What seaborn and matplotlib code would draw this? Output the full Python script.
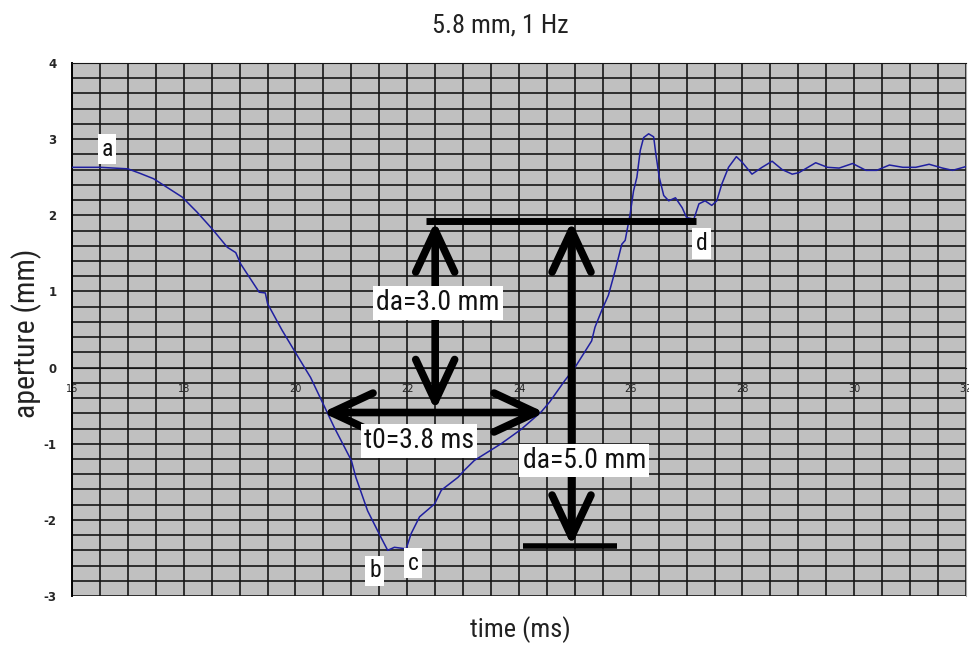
import numpy as np
import pandas as pd
import matplotlib
matplotlib.use("Agg")
import matplotlib.pyplot as plt
from matplotlib import font_manager
import seaborn as sns

# aperture trace (mm) against time (ms)
time_ms = [16.00, 16.50, 17.00, 17.22, 17.46, 17.97, 18.24, 18.51, 18.78, 18.93,
           19.02, 19.35, 19.46, 19.50, 19.76, 20.03, 20.27, 20.51, 20.69, 21.00,
           21.08, 21.29, 21.53, 21.65, 21.77, 21.98, 22.07, 22.22, 22.49, 22.61,
           22.91, 23.02, 23.20, 23.68, 24.04, 24.40, 24.55, 24.82, 25.00, 25.30,
           25.36, 25.48, 25.60, 25.72, 25.84, 25.90, 25.99, 26.05, 26.11, 26.17,
           26.23, 26.32, 26.41, 26.45, 26.51, 26.59, 26.68, 26.80, 26.92, 27.00,
           27.13, 27.22, 27.33, 27.45, 27.54, 27.63, 27.75, 27.89, 27.99, 28.17,
           28.35, 28.53, 28.71, 28.89, 29.01, 29.31, 29.52, 29.73, 29.97, 30.21,
           30.40, 30.63, 30.87, 31.10, 31.34, 31.58, 31.76, 32.00]
aperture_mm = [2.63, 2.63, 2.61, 2.55, 2.48, 2.24, 2.04, 1.82, 1.58, 1.51,
               1.36, 0.99, 0.98, 0.84, 0.49, 0.16, -0.13, -0.50, -0.78, -1.22,
               -1.44, -1.88, -2.23, -2.40, -2.36, -2.38, -2.18, -1.96, -1.79, -1.61,
               -1.44, -1.35, -1.22, -1.00, -0.81, -0.58, -0.45, -0.17, 0.00, 0.35,
               0.53, 0.75, 0.95, 1.27, 1.62, 1.67, 2.02, 2.32, 2.50, 2.85,
               3.02, 3.07, 3.03, 2.80, 2.50, 2.26, 2.19, 2.23, 2.10, 1.97,
               1.95, 2.15, 2.19, 2.13, 2.19, 2.41, 2.63, 2.77, 2.70, 2.54,
               2.63, 2.71, 2.60, 2.54, 2.56, 2.69, 2.63, 2.62, 2.68, 2.59,
               2.59, 2.66, 2.63, 2.63, 2.67, 2.62, 2.59, 2.64]

x_tick_values = [16, 18, 20, 22, 24, 26, 28, 30, 32]
y_tick_values = [-3, -2, -1, 0, 1, 2, 3, 4]

# measurement annotations (data coordinates)
t0_span = (20.48, 24.46, -0.59)          # x_start, x_end, y
da3_span = (22.50, 1.92, -0.56)          # x, y_top, y_bottom
da5_span = (24.94, 1.92, -2.34)          # x, y_top, y_bottom
top_level = (22.34, 27.16, 1.92)         # x_start, x_end, y
bottom_level = (24.08, 25.75, -2.34)     # x_start, x_end, y

labels = [
    ("a", 16.63, 2.87),
    ("b", 21.42, -2.67),
    ("c", 22.10, -2.57),
    ("d", 27.27, 1.63),
    ("da=3.0 mm", 22.55, 0.85),
    ("t0=3.8 ms", 22.21, -0.96),
    ("da=5.0 mm", 25.17, -1.22),
]

sns.set_style("white", {"axes.facecolor": "#c0c0c0"})
plt.rcParams["font.family"] = ["DejaVu Sans"]
plt.rcParams["axes.unicode_minus"] = False

# narrow face for the labels, if one is installed
narrow_family = "DejaVu Sans"
narrow_stretch = "normal"
_faces = [(f.name, f.stretch) for f in font_manager.fontManager.ttflist]
for name, stretch in _faces:
    if name == "DejaVu Sans" and stretch == "condensed":
        narrow_stretch = "condensed"
        break
for name, stretch in _faces:
    if name in ("Liberation Sans Narrow", "DejaVu Sans Condensed", "Roboto Condensed"):
        narrow_family, narrow_stretch = name, "normal"
        break
label_font = dict(family=narrow_family, stretch=narrow_stretch)

fig = plt.figure(figsize=(9.69, 6.48), dpi=100)
ax = fig.add_axes([0.0743, 0.0802, 0.9226, 0.8226])

df = pd.DataFrame({"time": time_ms, "aperture": aperture_mm})
sns.lineplot(data=df, x="time", y="aperture", ax=ax, color="#1f1fa0",
             linewidth=1.1, zorder=3, sort=False)

ax.set_xlim(16, 32)
ax.set_ylim(-3, 4)
ax.set_xticks(x_tick_values)
ax.set_yticks(y_tick_values)
ax.set_xticks(np.arange(16, 32.01, 0.5), minor=True)
ax.set_yticks(np.arange(-3, 4.01, 0.2), minor=True)
ax.grid(which="both", color="#161616", linewidth=1.2)
ax.set_axisbelow(True)

# x axis crosses at zero, labels just under it
ax.spines["bottom"].set_position(("data", 0))
ax.spines["bottom"].set_color("#161616")
ax.spines["top"].set_color("#161616")
ax.spines["right"].set_color("#a8a8a8")
ax.spines["left"].set_color("black")
ax.spines["left"].set_linewidth(1.4)
ax.tick_params(axis="x", which="both", length=0, pad=12, labelsize=7,
               labelcolor="#222222")
ax.tick_params(axis="y", which="major", direction="out", length=5, width=1.3,
               color="black", labelsize=8.5, pad=6)
ax.tick_params(axis="y", which="minor", length=0)
for t in ax.get_yticklabels():
    t.set_fontweight("bold")
ax.set_xlabel("")
ax.set_ylabel("")

# measurement lines and arrows
ax.plot([top_level[0], top_level[1]], [top_level[2], top_level[2]],
        color="black", linewidth=5, solid_capstyle="butt", zorder=4)
ax.plot([bottom_level[0], bottom_level[1]], [bottom_level[2], bottom_level[2]],
        color="black", linewidth=4, solid_capstyle="butt", zorder=4)

arrow_kw = dict(arrowstyle="<->,head_length=1.5,head_width=0.7", color="black",
                linewidth=5.5, shrinkA=0, shrinkB=0, mutation_scale=20)
ax.annotate("", xy=(t0_span[1], t0_span[2]), xytext=(t0_span[0], t0_span[2]),
            arrowprops=arrow_kw, zorder=4)
ax.annotate("", xy=(da3_span[0], da3_span[2]), xytext=(da3_span[0], da3_span[1]),
            arrowprops=arrow_kw, zorder=4)
ax.annotate("", xy=(da5_span[0], da5_span[2]), xytext=(da5_span[0], da5_span[1]),
            arrowprops=arrow_kw, zorder=4)

for text, x, y in labels:
    size = 17 if len(text) == 1 else 20
    ax.text(x, y, text, ha="center", va="center", fontsize=size, zorder=5,
            color="#111111", bbox=dict(facecolor="white", edgecolor="none", pad=2.5),
            **label_font)

fig.text(0.516, 0.961, "5.8 mm, 1 Hz", ha="center", va="center", fontsize=19,
         color="#222222", **label_font)
fig.text(0.028, 0.486, "aperture (mm)", ha="center", va="center", rotation=90,
         fontsize=21.5, color="#222222", **label_font)
fig.text(0.537, 0.028, "time (ms)", ha="center", va="center", fontsize=19,
         color="#222222", **label_font)

fig.savefig("out.png", dpi=100)
